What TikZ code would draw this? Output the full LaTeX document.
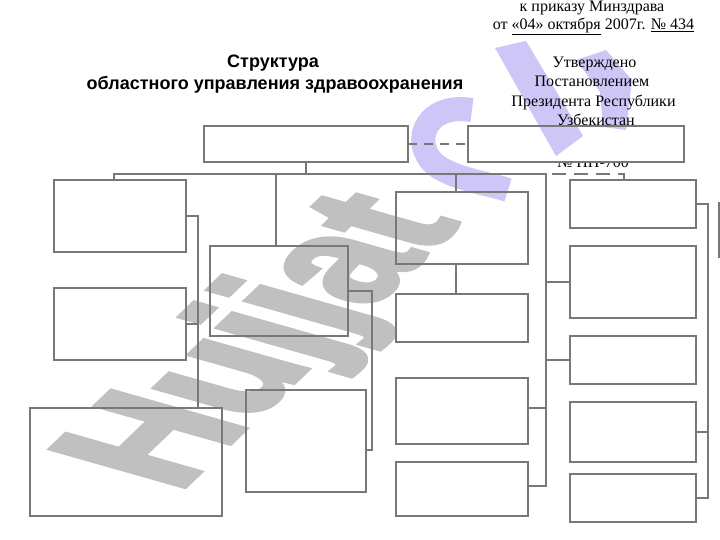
\documentclass[tikz,border=0pt]{standalone}
\usepackage{fontspec}
\setmainfont{Liberation Serif}
\newfontfamily\titlesans{Liberation Sans}
\newfontfamily\wmfont{Liberation Sans}[FakeSlant=-0.588, FakeStretch=0.81, FakeBold=3]
\usetikzlibrary{calc}
\pgfdeclarelayer{under}
\pgfdeclarelayer{wmark}
\pgfsetlayers{under,wmark,main}
\definecolor{wmgray}{RGB}{192,192,192}
\definecolor{wmviolet}{RGB}{206,198,246}
\definecolor{linegray}{RGB}{120,120,120}
\begin{document}
\begin{tikzpicture}[x=1pt,y=-1pt,
  box/.style={draw=linegray, line width=1.3pt, inner sep=0pt, outer sep=0pt},
  conn/.style={draw=linegray, line width=1.3pt},
  dashA/.style={draw=linegray, line width=1.3pt, dash pattern=on 9pt off 7pt},
  dashB/.style={draw=linegray, line width=1.3pt, dash pattern=on 14pt off 8pt, dash phase=16pt},
  ttl/.style={font=\titlesans\bfseries\fontsize{18}{22}\selectfont, inner sep=0pt, anchor=base},
  rtxt/.style={font=\fontsize{16}{19}\selectfont, inner sep=0pt, anchor=base}]
\useasboundingbox (0,0) rectangle (720,540);
\clip (0,0) rectangle (720,540);

% titles
\node[ttl] (t1) at (273,67.5) {Структура};
\node[ttl] (t2) at (275,89.5) {областного управления здравоохранения};

% right header text
\node[rtxt] (r1) at (592,12) {к приказу Минздрава};
\node[rtxt] (r2) at (593.5,29.5) {от \underline{«04» октября} 2007г. \underline{№ 434}};
\node[rtxt] (r3) at (594.5,68) {Утверждено};
\node[rtxt] (r4) at (592,87) {Постановлением};
\node[rtxt] (r5) at (593.5,106.5) {Президента Республики};
\node[rtxt] (r6) at (596,125.5) {Узбекистан};

% boxes
\node[box, minimum width=204, minimum height=36] (A) at (306,144) {};
\node[box, minimum width=216, minimum height=36] (B) at (576,144) {};
\node[box, minimum width=132, minimum height=72] (L1) at (120,216) {};
\node[box, minimum width=132, minimum height=72] (L2) at (120,324) {};
\node[box, minimum width=192, minimum height=108] (BL) at (126,462) {};
\node[box, minimum width=138, minimum height=90] (M1) at (279,291) {};
\node[box, minimum width=120, minimum height=102] (M2) at (306,441) {};
\node[box, minimum width=132, minimum height=72] (C1) at (462,228) {};
\node[box, minimum width=132, minimum height=48] (C2) at (462,318) {};
\node[box, minimum width=132, minimum height=66] (C3) at (462,411) {};
\node[box, minimum width=132, minimum height=54] (C4) at (462,489) {};
\node[box, minimum width=126, minimum height=48] (R1) at (633,204) {};
\node[box, minimum width=126, minimum height=72] (R2) at (633,282) {};
\node[box, minimum width=126, minimum height=48] (R3) at (633,360) {};
\node[box, minimum width=126, minimum height=60] (R4) at (633,432) {};
\node[box, minimum width=126, minimum height=48] (R5) at (633,498) {};
\node[box, minimum width=60, minimum height=54] (X) at (749,230) {};

% hidden text line under box B
\begin{pgfonlayer}{under}
  \node[rtxt] (frag) at (593,168) {№ ПП-700};
  \fill[white] (B.north west) rectangle (B.south east);
\end{pgfonlayer}

% watermark
\begin{pgfonlayer}{wmark}
  \begin{scope}
    \clip (0,0) rectangle (720,540);
    \node[anchor=base west, inner sep=0pt, rotate=43.7, text=wmgray,
      font=\wmfont\bfseries\fontsize{173.9}{174}\selectfont] (wm) at (178,493) {Hujjat};
    \fill[wmviolet] (495,48) -- (526,41) -- (583,136) -- (556,156) -- cycle;
    \fill[wmviolet] (576,60) -- (606,50) -- (632,80) -- (626,130) -- (603,127) -- (600,92) -- cycle;
    \draw[wmviolet, line width=24pt] (472,110) .. controls (420,102) and (410,150) .. (440,168)
      .. controls (460,180) and (490,184) .. (508,190);
  \end{scope}
\end{pgfonlayer}

% helper coordinates
\coordinate (hl) at (114,174);
\coordinate (hr) at (546,174);
\coordinate (c3s) at ($(C3.east)+(0,-3)$);
\coordinate (c4s) at ($(C4.east)+(0,-3)$);
\coordinate (m1x) at ($(M1.north)+(-3,0)$);
\coordinate (c1x) at ($(C1.north)+(-6,0)$);
\coordinate (m2s) at ($(M2.east)+(0,9)$);
\coordinate (lb) at ($(BL.north east)+(-24,0)$);
\coordinate (r1t) at ($(R1.north)+(-9,0)$);

% connectors
\draw[conn] (A.south) -- (A.south |- hl);
\draw[conn] (L1.north -| hl) -- (hl) -- (hr) -- (c4s -| hr) -- (c4s);
\draw[conn] (hl -| m1x) -- (m1x);
\draw[conn] (hl -| c1x) -- (c1x);
\draw[conn] (C1.south -| c1x) -- (C2.north -| c1x);
\draw[conn] (R2.west -| hr) -- (R2.west);
\draw[conn] (R3.west -| hr) -- (R3.west);
\draw[conn] (c3s) -- (c3s -| hr);
\draw[conn] (L1.east) -| (lb);
\draw[conn] (L2.east) -- (L2.east -| lb);
\draw[conn] (M1.east) -| ($(m2s)+(6,0)$) -- (m2s);
\draw[conn] (R1.east) -- ++(12,0) |- (R5.east);
\draw[conn] (R4.east) -- ++(12,0);
\draw[dashA] (A.east) -- (B.west);
\draw[dashB] (hr) -| (r1t);
\end{tikzpicture}
\end{document}
